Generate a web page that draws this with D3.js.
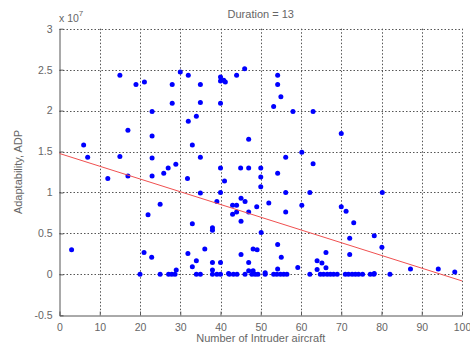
<!DOCTYPE html>
<html><head><meta charset="utf-8">
<script src="https://cdn.jsdelivr.net/npm/d3@7"></script>
<style>
html,body{margin:0;padding:0;background:#fff;}
svg{display:block;font-family:"Liberation Sans",Arial,sans-serif;}
</style></head>
<body><svg id="c" width="470" height="347"></svg>
<script>
// ---- data (values in units of 1e7) ----
const pointsX = [
 15.0,19.0,21.1,28.0,30.0,32.0,35.0,28.0,35.0,23.0,34.0,32.0,17.0,23.0,
 6.0,33.0,7.0,15.0,23.0,35.0,28.9,27.0,25.9,23.0,17.0,12.0,31.8,
 40.0,40.0,40.8,41.2,44.0,46.0,40.0,54.2,54.2,55.0,53.2,58.0,63.0,47.0,70.0,
 60.2,56.2,63.0,40.0,45.0,47.0,50.0,54.2,50.0,50.0,41.0,
 35.0,25.0,22.0,33.0,38.0,38.0,39.1,40.0,43.0,44.0,45.1,46.1,43.0,44.0,45.1,
 47.0,49.0,52.0,56.2,56.2,60.2,62.2,70.0,71.2,73.1,72.1,80.2,78.2,80.1,50.1,
 3.0,36.1,48.1,49.1,54.2,
 21.0,22.9,31.9,34.0,33.0,38.0,38.0,29.0,40.0,45.1,47.0,47.0,48.1,55.1,54.2,
 59.2,64.0,65.2,66.2,66.2,64.0,72.1,87.2,94.1,98.2,51.1,42.0,78.2,
 20.0,25.0,27.1,27.9,28.7,34.0,35.0,38.0,39.1,40.0,42.2,43.2,44.1,46.1,47.8,
 48.6,49.3,51.1,53.2,54.0,54.9,55.7,56.5,62.2,64.8,65.6,66.5,67.3,68.1,69.0,
 71.0,71.8,72.7,73.5,74.3,75.3,77.2,78.1,82.1
];
const pointsY = [
 2.43,2.32,2.35,2.32,2.47,2.43,2.32,2.09,2.10,1.99,1.93,1.87,1.76,1.69,
 1.58,1.58,1.43,1.44,1.42,1.43,1.345,1.30,1.235,1.20,1.20,1.17,1.17,
 2.41,2.36,2.37,2.35,2.43,2.51,2.09,2.43,2.32,2.17,2.05,1.99,1.99,1.65,1.72,
 1.49,1.43,1.35,1.30,1.30,1.30,1.30,1.235,1.19,1.07,1.14,
 0.995,0.857,0.727,0.617,0.57,0.54,0.89,1.0,0.845,0.845,0.93,0.89,0.735,0.76,0.65,
 0.76,0.825,0.87,1.0,0.76,0.845,1.0,0.825,0.77,0.63,0.44,1.0,0.47,0.33,0.51,
 0.30,0.31,0.31,0.30,0.365,
 0.268,0.21,0.256,0.166,0.093,0.146,0.052,0.052,0.146,0.244,0.146,0.045,0.045,0.21,0.065,
 0.085,0.166,0.138,0.268,0.08,0.06,0.244,0.065,0.065,0.03,0.02,0.01,0.01,
 0,0,0,0,0,0,0,0,0,0,0,0,0,0,0,
 0,0,0,0,0,0,0,0,0,0,0,0,0,0,0,
 0,0,0,0,0,0,0,0,0
];
const fitX = [0, 100];
const fitY = [1.476, -0.08];
const xTicks = [0,10,20,30,40,50,60,70,80,90,100];
const yTicks = [-0.5,0,0.5,1,1.5,2,2.5,3];
const yTickLabels = ["-0.5","0","0.5","1","1.5","2","2.5","3"];
const titleText = "Duration = 13";
const xLabel = "Number of Intruder aircraft";
const yLabel = "Adaptability, ADP";

// ---- drawing ----
const svg = d3.select("#c");
const L = 59.5, R = 462, T = 28.7, B = 315.3;
const x = d3.scaleLinear().domain([0,100]).range([L,R]);
const y = d3.scaleLinear().domain([-0.5,3]).range([B,T]);
const axisCol = "#555", textCol = "#666";

// grid
const grid = svg.append("g");
grid.selectAll("line.vx").data(xTicks.filter(d=>d>0)).join("line")
  .attr("x1",d=>Math.round(x(d))+0.5).attr("x2",d=>Math.round(x(d))+0.5)
  .attr("y1",T).attr("y2",B)
  .attr("stroke","#555").attr("stroke-width",1).attr("stroke-dasharray","1.5,2");
grid.selectAll("line.hy").data(yTicks.filter(d=>d>-0.5)).join("line")
  .attr("y1",d=>Math.round(y(d))+0.5).attr("y2",d=>Math.round(y(d))+0.5)
  .attr("x1",L).attr("x2",R)
  .attr("stroke","#555").attr("stroke-width",1).attr("stroke-dasharray","1.5,2");

// axes
const xAxis = d3.axisBottom(x).tickValues(xTicks).tickSizeInner(-4).tickSizeOuter(0).tickPadding(8)
  .tickFormat(d=>String(d));
const gx = svg.append("g").attr("transform",`translate(0,${Math.round(B)+0.5})`).call(xAxis);
const yAxis = d3.axisLeft(y).tickValues(yTicks).tickSizeInner(-4).tickSizeOuter(0).tickPadding(7)
  .tickFormat((d,i)=>yTickLabels[i]);
const gy = svg.append("g").attr("transform",`translate(${Math.round(L)-0.5},0)`).call(yAxis);
[gx,gy].forEach(g=>{
  g.select(".domain").attr("stroke",axisCol);
  g.selectAll(".tick line").attr("stroke",axisCol);
  g.selectAll(".tick text").attr("fill",textCol).attr("font-size",10.5)
   .attr("font-family","Liberation Sans, Arial, sans-serif");
});

// scatter points
const pts = pointsX.map((v,i)=>({x:v,y:pointsY[i]}));
svg.append("g").selectAll("circle").data(pts).join("circle")
  .attr("cx",d=>x(d.x)).attr("cy",d=>y(d.y)).attr("r",2.5).attr("fill","#0000ff");

// fit line
svg.append("path").datum(fitX.map((v,i)=>[v,fitY[i]]))
  .attr("d",d3.line().x(d=>x(d[0])).y(d=>y(d[1])))
  .attr("fill","none").attr("stroke","#f05050").attr("stroke-width",1);

// texts
svg.append("text").attr("x",(L+R)/2).attr("y",18).attr("text-anchor","middle")
  .attr("font-size",11).attr("fill",textCol).text(titleText);
svg.append("text").attr("x",(L+R)/2).attr("y",342).attr("text-anchor","middle")
  .attr("font-size",11).attr("fill",textCol).text(xLabel);
svg.append("text").attr("transform",`translate(22,${(T+B)/2}) rotate(-90)`)
  .attr("text-anchor","middle").attr("font-size",11).attr("fill",textCol).text(yLabel);
const ex = svg.append("text").attr("x",59).attr("y",22).attr("font-size",10.5).attr("fill",textCol);
ex.append("tspan").text("x 10");
ex.append("tspan").attr("dy",-6).attr("font-size",8).text("7");
</script></body></html>
